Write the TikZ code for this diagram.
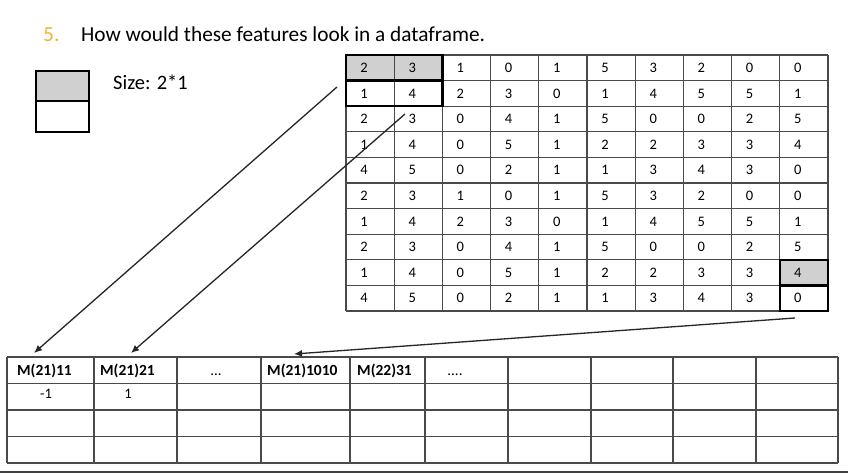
\documentclass[tikz,border=0pt]{standalone}
\usepackage{fontspec}
\setmainfont{Carlito}
\usetikzlibrary{arrows.meta}
\definecolor{titlegold}{HTML}{F2B632}
\definecolor{cellgray}{HTML}{D0D0D0}
\definecolor{gridline}{HTML}{4A4A4A}
\tikzset{
  gridrule/.style={draw=gridline, line width=1.1pt},
  heavybox/.style={draw=black, line width=2.6pt},
  num/.style={font=\fontsize{14.5}{16}\selectfont, inner sep=0pt, anchor=center},
  head/.style={font=\bfseries\fontsize{15.5}{18}\selectfont, inner sep=0pt, anchor=base west},
  dots/.style={font=\fontsize{15}{18}\selectfont, inner sep=0pt, anchor=base},
  link/.style={draw=black!85, line width=1.3pt, -{Latex[length=8pt,width=7pt]}},
}
\begin{document}
\begin{tikzpicture}[x=1pt,y=-1pt]
\useasboundingbox[fill=white] (0,0) rectangle (848,473);

% title
\node[anchor=base west, inner sep=0pt, text=titlegold, font=\fontsize{21.5}{24}\selectfont] (num5) at (43,42) {5.};
\node[anchor=base west, inner sep=0pt, font=\fontsize{21.3}{24}\selectfont] (title) at (81,42) {How would these features look in a dataframe.};

% window legend
\fill[cellgray] (36,71) rectangle (89,101);
\draw[heavybox] (36,71) rectangle (89,132);
\draw[heavybox] (36,101) -- (89,101);
\node[anchor=base west, inner sep=0pt, font=\fontsize{20.5}{24}\selectfont] (size) at (113,89.5) {Size: 2*1};

% feature matrix
\def\mx{346}\def\my{55}\def\cw{48.2}\def\rh{25.6}
\fill[cellgray] (\mx,\my) rectangle ({\mx+2*\cw},{\my+\rh});
\fill[cellgray] ({\mx+9*\cw},{\my+8*\rh}) rectangle ({\mx+10*\cw},{\my+9*\rh});
\foreach \i in {0,...,10} {
  \draw[gridrule] ({\mx+\i*\cw},\my) -- ({\mx+\i*\cw},{\my+10*\rh});
  \draw[gridrule] (\mx,{\my+\i*\rh}) -- ({\mx+10*\cw},{\my+\i*\rh});
}
\foreach \row [count=\r] in {
  {2,3,1,0,1,5,3,2,0,0},
  {1,4,2,3,0,1,4,5,5,1},
  {2,3,0,4,1,5,0,0,2,5},
  {1,4,0,5,1,2,2,3,3,4},
  {4,5,0,2,1,1,3,4,3,0},
  {2,3,1,0,1,5,3,2,0,0},
  {1,4,2,3,0,1,4,5,5,1},
  {2,3,0,4,1,5,0,0,2,5},
  {1,4,0,5,1,2,2,3,3,4},
  {4,5,0,2,1,1,3,4,3,0}} {
  \foreach \v [count=\c] in \row {
    \node[num] (m-\r-\c) at ({\mx+\cw*(\c-1)+18},{\my+\rh*(\r-0.5)}) {\v};
  }
}
% highlighted windows
\draw[heavybox] (\mx,\my) rectangle ({\mx+2*\cw},{\my+2*\rh});
\draw[heavybox] (\mx,{\my+\rh}) -- ({\mx+2*\cw},{\my+\rh});
\draw[heavybox] ({\mx+9*\cw},{\my+8*\rh}) rectangle ({\mx+10*\cw},{\my+10*\rh});
\draw[heavybox] ({\mx+9*\cw},{\my+9*\rh}) -- ({\mx+10*\cw},{\my+9*\rh});

% dataframe table
\foreach \x in {7,94,177,261,350,425,508,591,673,756,838}
  \draw[gridrule] (\x,357) -- (\x,463);
\foreach \y in {357,383.5,410,436.5,463}
  \draw[gridrule] (7,\y) -- (838,\y);
\node[head] (h1) at (17,375.7) {M(21)11};
\node[head] (h2) at (100,375.7) {M(21)21};
\node[dots] (h3) at (216,375.7) {...};
\node[head] (h4) at (267,375.7) {M(21)1010};
\node[head] (h5) at (357,375.7) {M(22)31};
\node[dots] (h6) at (455,375.7) {....};
\node[num] (v1) at (46,394) {-1};
\node[num] (v2) at (128,394) {1};

% mapping arrows
\coordinate (s1) at (337,87);
\coordinate (e1) at (34,353);
\coordinate (s2) at (405,114);
\coordinate (e2) at (131,353);
\coordinate (s3) at (795,318);
\coordinate (e3) at (294,354);
\draw[link] (s1) -- (e1);
\draw[link] (s2) -- (e2);
\draw[link] (s3) -- (e3);

% frame edge
\fill[black!75] (0,470.5) rectangle (848,473);
\end{tikzpicture}
\end{document}
